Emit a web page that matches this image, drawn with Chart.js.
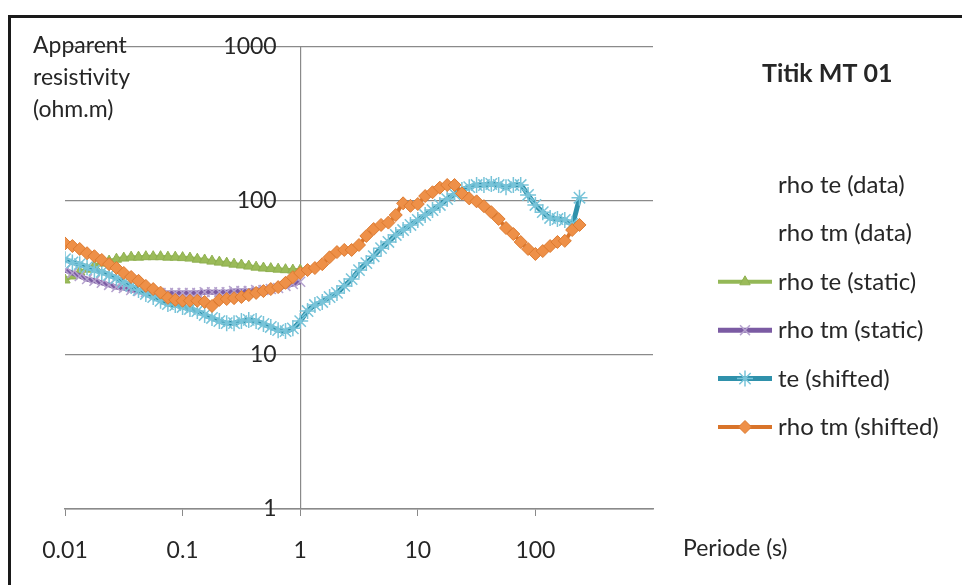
<!DOCTYPE html>
<html>
<head>
<meta charset="utf-8">
<title>Titik MT 01</title>
<script src="https://cdn.jsdelivr.net/npm/chart.js@4.4.0/dist/chart.umd.min.js"></script>
<style>
  html, body { margin: 0; padding: 0; background: #fff; }
  #wrap { width: 962px; height: 585px; position: relative; }
</style>
</head>
<body>
<div id="wrap"><canvas id="mtChart"></canvas></div>
<script>
// Period (s), log spaced, 16 samples per decade
const periods = [
  0.01, 0.01155, 0.01334, 0.0154, 0.01778, 0.02054, 0.02371, 0.02738, 0.03162, 0.03652, 0.04217, 0.0487, 0.05623, 0.06494, 0.07499, 0.0866,
  0.1, 0.1155, 0.1334, 0.154, 0.1778, 0.2054, 0.2371, 0.2738, 0.3162, 0.3652, 0.4217, 0.487, 0.5623, 0.6494, 0.7499, 0.866,
  1, 1.155, 1.334, 1.54, 1.778, 2.054, 2.371, 2.738, 3.162, 3.652, 4.217, 4.87, 5.623, 6.494, 7.499, 8.66,
  10, 11.55, 13.34, 15.4, 17.78, 20.54, 23.71, 27.38, 31.62, 36.52, 42.17, 48.7, 56.23, 64.94, 74.99, 86.6,
  100, 115.5, 133.4, 154, 177.8, 205.4, 237.1
];

// apparent resistivity (ohm.m)
const rhoTeStatic = [
  30.7, 32.6, 34.6, 36.1, 37.8, 39.5, 40.7, 41.9, 42.6, 43.2, 43.2, 43.5, 43.5, 43.5, 43.2, 43.2,
  42.9, 42.6, 41.9, 41.4, 40.7, 40.1, 39.5, 38.9, 38.4, 37.8, 37.2, 36.7, 36.4, 36.1, 35.8, 35.6, 35.6
];
const rhoTmStatic = [
  35.6, 34.1, 32.6, 31.1, 30.3, 29.4, 28.5, 27.6, 27.2, 26.4, 26.0, 25.6, 25.3, 25.3, 25.3, 25.3,
  25.3, 25.3, 25.3, 25.6, 25.6, 25.6, 25.6, 26.0, 26.0, 26.0, 26.4, 26.4, 26.8, 27.2, 28.1, 28.9, 29.9
];
const teShifted = [
  41.9, 39.9, 38.9, 37.2, 35.6, 34.6, 33.1, 31.6, 29.7, 28.1, 26.4, 24.9, 23.8, 22.5, 21.4, 21.1,
  20.5, 19.9, 19.3, 18.2, 17.4, 16.6, 16.1, 16.1, 16.6, 16.9, 16.6, 15.9, 15.2, 14.5, 14.3, 14.9,
  16.6, 19.3, 21.1, 22.1, 23.8, 25.3, 28.1, 31.1, 35.6, 39.5, 43.8, 49.4, 54.2, 60.2, 64.8, 69.9,
  75.3, 81.1, 87.4, 94.2, 102.9, 111, 118, 123, 127, 127, 129, 127, 123, 127, 127, 109.4,
  94.2, 84.6, 77.6, 76.4, 75.3, 71, 105
];
const rhoTmShifted = [
  53, 51, 48.8, 45.8, 43.8, 41.4, 38.9, 36.7, 34.1, 32.1, 30.3, 28.1, 26.8, 25.4, 23.5, 22.8,
  22.5, 22.5, 22.5, 22.1, 20.8, 22.8, 23.1, 23.4, 23.8, 24.5, 25.3, 26.0, 26.8, 27.6, 29.4, 32.0,
  34.1, 35.6, 36.7, 38.9, 43.1, 46.6, 48.1, 48.1, 51.8, 59.3, 65.8, 69.9, 72.4, 81.1, 96.6, 93,
  95.6, 107.7, 114, 122, 127, 127, 112, 104, 99.5, 92.6, 84.6, 76.4, 66.8, 61, 54.2, 48.8,
  45.3, 47.3, 51, 54.2, 55.1, 64.8, 69.9
];

const xTicks = [0.01, 0.1, 1, 10, 100];
const xTickLabels = ['0.01', '0.1', '1', '10', '100'];
const yTicks = [1, 10, 100, 1000];
const yTickLabels = ['1', '10', '100', '1000'];

const chartTitle = 'Titik MT 01';
const yTitleLines = ['Apparent', 'resistivity', '(ohm.m)'];
const xTitle = 'Periode (s)';

const FONT = 'Lato';
const TEXT = '#262626';

const toPoints = (vals) => vals.map((v, i) => ({ x: periods[i], y: v }));

// draws titles, frame and the legend (Excel-like layout)
const annotations = {
  id: 'annotations',
  afterDraw(chart) {
    const ctx = chart.ctx;
    ctx.save();
    ctx.strokeStyle = '#1a1a1a';
    ctx.lineWidth = 3;
    ctx.strokeRect(9.5, 16.5, 1200, 1200);

    ctx.fillStyle = TEXT;
    ctx.textAlign = 'left';
    ctx.textBaseline = 'alphabetic';
    ctx.font = '23px ' + FONT;
    yTitleLines.forEach((t, i) => ctx.fillText(t, 33, 53 + i * 32));
    ctx.fillText(xTitle, 683, 556);
    ctx.font = 'bold 25px ' + FONT;
    ctx.fillText(chartTitle, 762, 82);

    // legend
    chart.data.datasets.forEach((ds, i) => {
      const base = 193 + i * 48.4;
      const my = base - 8;
      if (ds.data.length) {
        ctx.strokeStyle = ds.borderColor;
        ctx.lineWidth = ds.borderWidth;
        ctx.beginPath();
        ctx.moveTo(718, my);
        ctx.lineTo(772, my);
        ctx.stroke();
        ctx.fillStyle = ds.pointBackgroundColor;
        ctx.strokeStyle = ds.pointBorderColor;
        ctx.lineWidth = ds.pointBorderWidth;
        Chart.helpers.drawPoint(ctx, {
          pointStyle: ds.pointStyle, radius: ds.pointRadius, rotation: 0, borderWidth: ds.pointBorderWidth
        }, 745, my);
      }
      ctx.fillStyle = TEXT;
      ctx.font = '24px ' + FONT;
      ctx.fillText(ds.label, 778, base);
    });
    ctx.restore();
  }
};

const ctx = document.getElementById('mtChart').getContext('2d');
new Chart(ctx, {
  type: 'line',
  data: {
    datasets: [
      { label: 'rho te (data)', data: [], borderWidth: 0, pointRadius: 0 },
      { label: 'rho tm (data)', data: [], borderWidth: 0, pointRadius: 0 },
      {
        label: 'rho te (static)', data: toPoints(rhoTeStatic), order: 4,
        borderColor: '#94B857', borderWidth: 4,
        pointStyle: 'triangle', pointRadius: 6, pointBackgroundColor: '#9BBB59', pointBorderColor: '#8FB050', pointBorderWidth: 1
      },
      {
        label: 'rho tm (static)', data: toPoints(rhoTmStatic), order: 3,
        borderColor: '#7B5BA3', borderWidth: 5,
        pointStyle: 'crossRot', pointRadius: 7, pointBackgroundColor: '#B5A2CE', pointBorderColor: '#B5A2CE', pointBorderWidth: 1.5
      },
      {
        label: 'te (shifted)', data: toPoints(teShifted), order: 2,
        borderColor: '#2F91AB', borderWidth: 5,
        pointStyle: 'star', pointRadius: 8, pointBackgroundColor: '#78C4D9', pointBorderColor: '#78C4D9', pointBorderWidth: 1.5
      },
      {
        label: 'rho tm (shifted)', data: toPoints(rhoTmShifted), order: 1,
        borderColor: '#D9742A', borderWidth: 4,
        pointStyle: 'rectRot', pointRadius: 6.5, pointBackgroundColor: '#EE9048', pointBorderColor: '#DC7A30', pointBorderWidth: 1
      }
    ]
  },
  options: {
    responsive: true,
    maintainAspectRatio: false,
    animation: false,
    devicePixelRatio: 1,
    layout: { padding: { left: 65, right: 309, top: 47, bottom: 0 } },
    elements: { line: { tension: 0.2 } },
    plugins: {
      legend: { display: false },
      tooltip: { enabled: false },
      title: { display: false }
    },
    scales: {
      x: {
        type: 'logarithmic',
        position: 'bottom',
        min: 0.01,
        max: 1000,
        afterBuildTicks: (s) => { s.ticks = xTicks.map((v) => ({ value: v })); },
        afterFit: (s) => { s.height = 76; },
        ticks: {
          callback: (v) => xTickLabels[xTicks.indexOf(v)],
          color: TEXT,
          font: { family: FONT, size: 23 },
          padding: 21,
          maxRotation: 0,
          autoSkip: false
        },
        grid: { drawOnChartArea: false, drawTicks: true, tickLength: 7, color: '#8a8a8a' },
        border: { color: '#8a8a8a', width: 1.5 }
      },
      y: {
        type: 'logarithmic',
        position: { x: 1 },
        min: 1,
        max: 1000,
        afterBuildTicks: (s) => { s.ticks = yTicks.map((v) => ({ value: v })); },
        ticks: {
          // trailing spaces keep the labels clear of the axis line, as in the source
          callback: (v) => yTickLabels[yTicks.indexOf(v)] + '    ',
          color: TEXT,
          font: { family: FONT, size: 23 }
        },
        grid: { drawTicks: false, color: '#8a8a8a', lineWidth: 1.2 },
        border: { color: '#8a8a8a', width: 1.2 }
      }
    }
  },
  plugins: [annotations]
});
</script>
</body>
</html>
